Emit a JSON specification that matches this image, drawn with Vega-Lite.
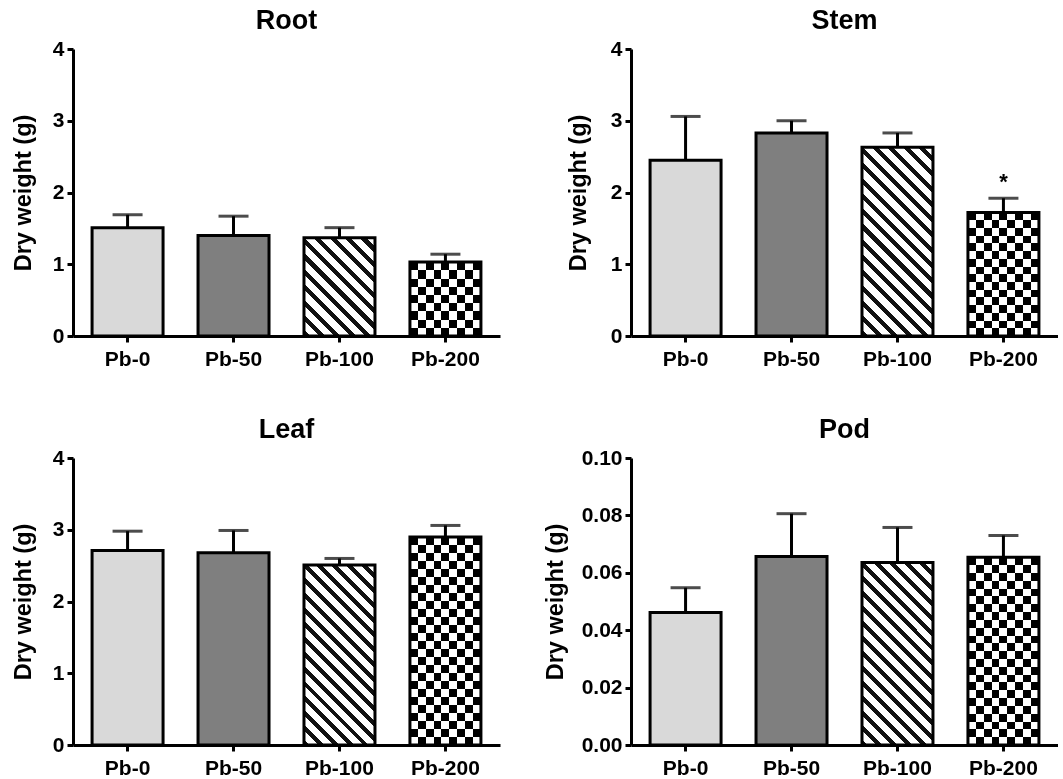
{
"$schema":"https://vega.github.io/schema/vega-lite/v6.json",
"background":"white",
"padding":{"left":11,"top":7,"right":0,"bottom":0},
"columns":2,
"align":"each",
"spacing":{"row":47,"column":43},
"concat":[
{
"title":{"text":"Root"},
"width":427,"height":287,
"data":{"values":[
{"g":"Pb-0","mean":1.51,"upper":1.69},
{"g":"Pb-50","mean":1.40,"upper":1.67},
{"g":"Pb-100","mean":1.37,"upper":1.51},
{"g":"Pb-200","mean":1.03,"upper":1.14}]},
"encoding":{
"x":{"field":"g","type":"nominal","sort":null,"scale":{"paddingInner":0.33,"paddingOuter":0.18},"axis":{"title":null,"labelAngle":0,"labelPadding":6,"labelFontSize":21}},
"y":{"field":"mean","type":"quantitative","title":"Dry weight (g)","scale":{"domain":[0,4],"nice":false},"axis":{"values":[0,1,2,3,4],"titlePadding":17,"labelPadding":3}}},
"layer":[
{"mark":{"type":"bar"},"encoding":{"fill":{"condition":[
{"test":"datum.g === 'Pb-0'","value":"#d9d9d9"},
{"test":"datum.g === 'Pb-50'","value":"#7f7f7f"},
{"test":"datum.g === 'Pb-100'","value":{"gradient":"linear","x1":0,"y1":1,"x2":0.8175,"y2":-0.1318,"stops":[
{"offset":0,"color":"#111"},{"offset":0.0364,"color":"#111"},{"offset":0.0364,"color":"#fff"},{"offset":0.0909,"color":"#fff"},
{"offset":0.0909,"color":"#111"},{"offset":0.1273,"color":"#111"},{"offset":0.1273,"color":"#fff"},{"offset":0.1818,"color":"#fff"},
{"offset":0.1818,"color":"#111"},{"offset":0.2182,"color":"#111"},{"offset":0.2182,"color":"#fff"},{"offset":0.2727,"color":"#fff"},
{"offset":0.2727,"color":"#111"},{"offset":0.3091,"color":"#111"},{"offset":0.3091,"color":"#fff"},{"offset":0.3636,"color":"#fff"},
{"offset":0.3636,"color":"#111"},{"offset":0.4,"color":"#111"},{"offset":0.4,"color":"#fff"},{"offset":0.4545,"color":"#fff"},
{"offset":0.4545,"color":"#111"},{"offset":0.4909,"color":"#111"},{"offset":0.4909,"color":"#fff"},{"offset":0.5455,"color":"#fff"},
{"offset":0.5455,"color":"#111"},{"offset":0.5818,"color":"#111"},{"offset":0.5818,"color":"#fff"},{"offset":0.6364,"color":"#fff"},
{"offset":0.6364,"color":"#111"},{"offset":0.6727,"color":"#111"},{"offset":0.6727,"color":"#fff"},{"offset":0.7273,"color":"#fff"},
{"offset":0.7273,"color":"#111"},{"offset":0.7636,"color":"#111"},{"offset":0.7636,"color":"#fff"},{"offset":0.8182,"color":"#fff"},
{"offset":0.8182,"color":"#111"},{"offset":0.8545,"color":"#111"},{"offset":0.8545,"color":"#fff"},{"offset":0.9091,"color":"#fff"},
{"offset":0.9091,"color":"#111"},{"offset":0.9455,"color":"#111"},{"offset":0.9455,"color":"#fff"},{"offset":1,"color":"#fff"}]}}],
"value":{"gradient":"linear","x1":0,"y1":0,"x2":0,"y2":1,"stops":[
{"offset":0,"color":"#000"},{"offset":0.1111,"color":"#000"},{"offset":0.1111,"color":"#fff"},{"offset":0.2222,"color":"#fff"},
{"offset":0.2222,"color":"#000"},{"offset":0.3333,"color":"#000"},{"offset":0.3333,"color":"#fff"},{"offset":0.4444,"color":"#fff"},
{"offset":0.4444,"color":"#000"},{"offset":0.5556,"color":"#000"},{"offset":0.5556,"color":"#fff"},{"offset":0.6667,"color":"#fff"},
{"offset":0.6667,"color":"#000"},{"offset":0.7778,"color":"#000"},{"offset":0.7778,"color":"#fff"},{"offset":0.8889,"color":"#fff"},
{"offset":0.8889,"color":"#000"},{"offset":1,"color":"#000"}]}}}},
{"transform":[{"filter":"datum.g === 'Pb-200'"}],"mark":{"type":"bar","blend":"difference"},"encoding":{"fill":{"value":{"gradient":"linear","x1":0,"y1":0,"x2":1,"y2":0,"stops":[
{"offset":0,"color":"#000"},{"offset":0.1111,"color":"#000"},{"offset":0.1111,"color":"#fff"},{"offset":0.2222,"color":"#fff"},
{"offset":0.2222,"color":"#000"},{"offset":0.3333,"color":"#000"},{"offset":0.3333,"color":"#fff"},{"offset":0.4444,"color":"#fff"},
{"offset":0.4444,"color":"#000"},{"offset":0.5556,"color":"#000"},{"offset":0.5556,"color":"#fff"},{"offset":0.6667,"color":"#fff"},
{"offset":0.6667,"color":"#000"},{"offset":0.7778,"color":"#000"},{"offset":0.7778,"color":"#fff"},{"offset":0.8889,"color":"#fff"},
{"offset":0.8889,"color":"#000"},{"offset":1,"color":"#000"}]}}}},
{"mark":{"type":"bar","fillOpacity":0,"stroke":"#000","strokeWidth":3}},
{"mark":{"type":"rule","color":"#000","strokeWidth":3},"encoding":{"y2":{"field":"upper"}}},
{"mark":{"type":"tick","color":"#000","size":30,"thickness":3},"encoding":{"y":{"field":"upper","type":"quantitative","title":"Dry weight (g)","scale":{"domain":[0,4],"nice":false},"axis":{"values":[0,1,2,3,4],"titlePadding":17,"labelPadding":3}}}}
]
},
{
"title":{"text":"Stem"},
"width":427,"height":287,
"data":{"values":[
{"g":"Pb-0","mean":2.45,"upper":3.06,"sig":""},
{"g":"Pb-50","mean":2.83,"upper":3.00,"sig":""},
{"g":"Pb-100","mean":2.63,"upper":2.83,"sig":""},
{"g":"Pb-200","mean":1.72,"upper":1.92,"sig":"*"}]},
"encoding":{
"x":{"field":"g","type":"nominal","sort":null,"scale":{"paddingInner":0.33,"paddingOuter":0.18},"axis":{"title":null,"labelAngle":0,"labelPadding":6,"labelFontSize":21}},
"y":{"field":"mean","type":"quantitative","title":"Dry weight (g)","scale":{"domain":[0,4],"nice":false},"axis":{"values":[0,1,2,3,4],"titlePadding":20,"labelPadding":3}}},
"layer":[
{"mark":{"type":"bar"},"encoding":{"fill":{"condition":[
{"test":"datum.g === 'Pb-0'","value":"#d9d9d9"},
{"test":"datum.g === 'Pb-50'","value":"#7f7f7f"},
{"test":"datum.g === 'Pb-100'","value":{"gradient":"linear","x1":0,"y1":1,"x2":0.4536,"y2":-0.2055,"stops":[
{"offset":0,"color":"#111"},{"offset":0.0235,"color":"#111"},{"offset":0.0235,"color":"#fff"},{"offset":0.0588,"color":"#fff"},
{"offset":0.0588,"color":"#111"},{"offset":0.0824,"color":"#111"},{"offset":0.0824,"color":"#fff"},{"offset":0.1176,"color":"#fff"},
{"offset":0.1176,"color":"#111"},{"offset":0.1412,"color":"#111"},{"offset":0.1412,"color":"#fff"},{"offset":0.1765,"color":"#fff"},
{"offset":0.1765,"color":"#111"},{"offset":0.2,"color":"#111"},{"offset":0.2,"color":"#fff"},{"offset":0.2353,"color":"#fff"},
{"offset":0.2353,"color":"#111"},{"offset":0.2588,"color":"#111"},{"offset":0.2588,"color":"#fff"},{"offset":0.2941,"color":"#fff"},
{"offset":0.2941,"color":"#111"},{"offset":0.3176,"color":"#111"},{"offset":0.3176,"color":"#fff"},{"offset":0.3529,"color":"#fff"},
{"offset":0.3529,"color":"#111"},{"offset":0.3765,"color":"#111"},{"offset":0.3765,"color":"#fff"},{"offset":0.4118,"color":"#fff"},
{"offset":0.4118,"color":"#111"},{"offset":0.4353,"color":"#111"},{"offset":0.4353,"color":"#fff"},{"offset":0.4706,"color":"#fff"},
{"offset":0.4706,"color":"#111"},{"offset":0.4941,"color":"#111"},{"offset":0.4941,"color":"#fff"},{"offset":0.5294,"color":"#fff"},
{"offset":0.5294,"color":"#111"},{"offset":0.5529,"color":"#111"},{"offset":0.5529,"color":"#fff"},{"offset":0.5882,"color":"#fff"},
{"offset":0.5882,"color":"#111"},{"offset":0.6118,"color":"#111"},{"offset":0.6118,"color":"#fff"},{"offset":0.6471,"color":"#fff"},
{"offset":0.6471,"color":"#111"},{"offset":0.6706,"color":"#111"},{"offset":0.6706,"color":"#fff"},{"offset":0.7059,"color":"#fff"},
{"offset":0.7059,"color":"#111"},{"offset":0.7294,"color":"#111"},{"offset":0.7294,"color":"#fff"},{"offset":0.7647,"color":"#fff"},
{"offset":0.7647,"color":"#111"},{"offset":0.7882,"color":"#111"},{"offset":0.7882,"color":"#fff"},{"offset":0.8235,"color":"#fff"},
{"offset":0.8235,"color":"#111"},{"offset":0.8471,"color":"#111"},{"offset":0.8471,"color":"#fff"},{"offset":0.8824,"color":"#fff"},
{"offset":0.8824,"color":"#111"},{"offset":0.9059,"color":"#111"},{"offset":0.9059,"color":"#fff"},{"offset":0.9412,"color":"#fff"},
{"offset":0.9412,"color":"#111"},{"offset":0.9647,"color":"#111"},{"offset":0.9647,"color":"#fff"},{"offset":1,"color":"#fff"}]}}],
"value":{"gradient":"linear","x1":0,"y1":0,"x2":0,"y2":1,"stops":[
{"offset":0,"color":"#000"},{"offset":0.0625,"color":"#000"},{"offset":0.0625,"color":"#fff"},{"offset":0.125,"color":"#fff"},
{"offset":0.125,"color":"#000"},{"offset":0.1875,"color":"#000"},{"offset":0.1875,"color":"#fff"},{"offset":0.25,"color":"#fff"},
{"offset":0.25,"color":"#000"},{"offset":0.3125,"color":"#000"},{"offset":0.3125,"color":"#fff"},{"offset":0.375,"color":"#fff"},
{"offset":0.375,"color":"#000"},{"offset":0.4375,"color":"#000"},{"offset":0.4375,"color":"#fff"},{"offset":0.5,"color":"#fff"},
{"offset":0.5,"color":"#000"},{"offset":0.5625,"color":"#000"},{"offset":0.5625,"color":"#fff"},{"offset":0.625,"color":"#fff"},
{"offset":0.625,"color":"#000"},{"offset":0.6875,"color":"#000"},{"offset":0.6875,"color":"#fff"},{"offset":0.75,"color":"#fff"},
{"offset":0.75,"color":"#000"},{"offset":0.8125,"color":"#000"},{"offset":0.8125,"color":"#fff"},{"offset":0.875,"color":"#fff"},
{"offset":0.875,"color":"#000"},{"offset":0.9375,"color":"#000"},{"offset":0.9375,"color":"#fff"},{"offset":1,"color":"#fff"}]}}}},
{"transform":[{"filter":"datum.g === 'Pb-200'"}],"mark":{"type":"bar","blend":"difference"},"encoding":{"fill":{"value":{"gradient":"linear","x1":0,"y1":0,"x2":1,"y2":0,"stops":[
{"offset":0,"color":"#000"},{"offset":0.1111,"color":"#000"},{"offset":0.1111,"color":"#fff"},{"offset":0.2222,"color":"#fff"},
{"offset":0.2222,"color":"#000"},{"offset":0.3333,"color":"#000"},{"offset":0.3333,"color":"#fff"},{"offset":0.4444,"color":"#fff"},
{"offset":0.4444,"color":"#000"},{"offset":0.5556,"color":"#000"},{"offset":0.5556,"color":"#fff"},{"offset":0.6667,"color":"#fff"},
{"offset":0.6667,"color":"#000"},{"offset":0.7778,"color":"#000"},{"offset":0.7778,"color":"#fff"},{"offset":0.8889,"color":"#fff"},
{"offset":0.8889,"color":"#000"},{"offset":1,"color":"#000"}]}}}},
{"mark":{"type":"bar","fillOpacity":0,"stroke":"#000","strokeWidth":3}},
{"mark":{"type":"rule","color":"#000","strokeWidth":3},"encoding":{"y2":{"field":"upper"}}},
{"mark":{"type":"tick","color":"#000","size":30,"thickness":3},"encoding":{"y":{"field":"upper","type":"quantitative","title":"Dry weight (g)","scale":{"domain":[0,4],"nice":false},"axis":{"values":[0,1,2,3,4],"titlePadding":20,"labelPadding":3}}}},
{"transform":[{"filter":"datum.sig === '*'"}],"mark":{"type":"text","color":"#000","fontSize":22,"fontWeight":"bold","baseline":"alphabetic","dy":-9},"encoding":{"y":{"field":"upper","type":"quantitative","title":"Dry weight (g)","scale":{"domain":[0,4],"nice":false},"axis":{"values":[0,1,2,3,4],"titlePadding":20,"labelPadding":3}},"text":{"field":"sig"}}}
]
},
{
"title":{"text":"Leaf"},
"width":427,"height":287,
"data":{"values":[
{"g":"Pb-0","mean":2.71,"upper":2.98},
{"g":"Pb-50","mean":2.68,"upper":2.99},
{"g":"Pb-100","mean":2.51,"upper":2.60},
{"g":"Pb-200","mean":2.90,"upper":3.06}]},
"encoding":{
"x":{"field":"g","type":"nominal","sort":null,"scale":{"paddingInner":0.33,"paddingOuter":0.18},"axis":{"title":null,"labelAngle":0,"labelPadding":6,"labelFontSize":21}},
"y":{"field":"mean","type":"quantitative","title":"Dry weight (g)","scale":{"domain":[0,4],"nice":false},"axis":{"values":[0,1,2,3,4],"titlePadding":17,"labelPadding":3}}},
"layer":[
{"mark":{"type":"bar"},"encoding":{"fill":{"condition":[
{"test":"datum.g === 'Pb-0'","value":"#d9d9d9"},
{"test":"datum.g === 'Pb-50'","value":"#7f7f7f"},
{"test":"datum.g === 'Pb-100'","value":{"gradient":"linear","x1":0,"y1":1,"x2":0.4757,"y2":-0.2067,"stops":[
{"offset":0,"color":"#111"},{"offset":0.0235,"color":"#111"},{"offset":0.0235,"color":"#fff"},{"offset":0.0588,"color":"#fff"},
{"offset":0.0588,"color":"#111"},{"offset":0.0824,"color":"#111"},{"offset":0.0824,"color":"#fff"},{"offset":0.1176,"color":"#fff"},
{"offset":0.1176,"color":"#111"},{"offset":0.1412,"color":"#111"},{"offset":0.1412,"color":"#fff"},{"offset":0.1765,"color":"#fff"},
{"offset":0.1765,"color":"#111"},{"offset":0.2,"color":"#111"},{"offset":0.2,"color":"#fff"},{"offset":0.2353,"color":"#fff"},
{"offset":0.2353,"color":"#111"},{"offset":0.2588,"color":"#111"},{"offset":0.2588,"color":"#fff"},{"offset":0.2941,"color":"#fff"},
{"offset":0.2941,"color":"#111"},{"offset":0.3176,"color":"#111"},{"offset":0.3176,"color":"#fff"},{"offset":0.3529,"color":"#fff"},
{"offset":0.3529,"color":"#111"},{"offset":0.3765,"color":"#111"},{"offset":0.3765,"color":"#fff"},{"offset":0.4118,"color":"#fff"},
{"offset":0.4118,"color":"#111"},{"offset":0.4353,"color":"#111"},{"offset":0.4353,"color":"#fff"},{"offset":0.4706,"color":"#fff"},
{"offset":0.4706,"color":"#111"},{"offset":0.4941,"color":"#111"},{"offset":0.4941,"color":"#fff"},{"offset":0.5294,"color":"#fff"},
{"offset":0.5294,"color":"#111"},{"offset":0.5529,"color":"#111"},{"offset":0.5529,"color":"#fff"},{"offset":0.5882,"color":"#fff"},
{"offset":0.5882,"color":"#111"},{"offset":0.6118,"color":"#111"},{"offset":0.6118,"color":"#fff"},{"offset":0.6471,"color":"#fff"},
{"offset":0.6471,"color":"#111"},{"offset":0.6706,"color":"#111"},{"offset":0.6706,"color":"#fff"},{"offset":0.7059,"color":"#fff"},
{"offset":0.7059,"color":"#111"},{"offset":0.7294,"color":"#111"},{"offset":0.7294,"color":"#fff"},{"offset":0.7647,"color":"#fff"},
{"offset":0.7647,"color":"#111"},{"offset":0.7882,"color":"#111"},{"offset":0.7882,"color":"#fff"},{"offset":0.8235,"color":"#fff"},
{"offset":0.8235,"color":"#111"},{"offset":0.8471,"color":"#111"},{"offset":0.8471,"color":"#fff"},{"offset":0.8824,"color":"#fff"},
{"offset":0.8824,"color":"#111"},{"offset":0.9059,"color":"#111"},{"offset":0.9059,"color":"#fff"},{"offset":0.9412,"color":"#fff"},
{"offset":0.9412,"color":"#111"},{"offset":0.9647,"color":"#111"},{"offset":0.9647,"color":"#fff"},{"offset":1,"color":"#fff"}]}}],
"value":{"gradient":"linear","x1":0,"y1":0,"x2":0,"y2":1,"stops":[
{"offset":0,"color":"#000"},{"offset":0.0385,"color":"#000"},{"offset":0.0385,"color":"#fff"},{"offset":0.0769,"color":"#fff"},
{"offset":0.0769,"color":"#000"},{"offset":0.1154,"color":"#000"},{"offset":0.1154,"color":"#fff"},{"offset":0.1538,"color":"#fff"},
{"offset":0.1538,"color":"#000"},{"offset":0.1923,"color":"#000"},{"offset":0.1923,"color":"#fff"},{"offset":0.2308,"color":"#fff"},
{"offset":0.2308,"color":"#000"},{"offset":0.2692,"color":"#000"},{"offset":0.2692,"color":"#fff"},{"offset":0.3077,"color":"#fff"},
{"offset":0.3077,"color":"#000"},{"offset":0.3462,"color":"#000"},{"offset":0.3462,"color":"#fff"},{"offset":0.3846,"color":"#fff"},
{"offset":0.3846,"color":"#000"},{"offset":0.4231,"color":"#000"},{"offset":0.4231,"color":"#fff"},{"offset":0.4615,"color":"#fff"},
{"offset":0.4615,"color":"#000"},{"offset":0.5,"color":"#000"},{"offset":0.5,"color":"#fff"},{"offset":0.5385,"color":"#fff"},
{"offset":0.5385,"color":"#000"},{"offset":0.5769,"color":"#000"},{"offset":0.5769,"color":"#fff"},{"offset":0.6154,"color":"#fff"},
{"offset":0.6154,"color":"#000"},{"offset":0.6538,"color":"#000"},{"offset":0.6538,"color":"#fff"},{"offset":0.6923,"color":"#fff"},
{"offset":0.6923,"color":"#000"},{"offset":0.7308,"color":"#000"},{"offset":0.7308,"color":"#fff"},{"offset":0.7692,"color":"#fff"},
{"offset":0.7692,"color":"#000"},{"offset":0.8077,"color":"#000"},{"offset":0.8077,"color":"#fff"},{"offset":0.8462,"color":"#fff"},
{"offset":0.8462,"color":"#000"},{"offset":0.8846,"color":"#000"},{"offset":0.8846,"color":"#fff"},{"offset":0.9231,"color":"#fff"},
{"offset":0.9231,"color":"#000"},{"offset":0.9615,"color":"#000"},{"offset":0.9615,"color":"#fff"},{"offset":1,"color":"#fff"}]}}}},
{"transform":[{"filter":"datum.g === 'Pb-200'"}],"mark":{"type":"bar","blend":"difference"},"encoding":{"fill":{"value":{"gradient":"linear","x1":0,"y1":0,"x2":1,"y2":0,"stops":[
{"offset":0,"color":"#000"},{"offset":0.1111,"color":"#000"},{"offset":0.1111,"color":"#fff"},{"offset":0.2222,"color":"#fff"},
{"offset":0.2222,"color":"#000"},{"offset":0.3333,"color":"#000"},{"offset":0.3333,"color":"#fff"},{"offset":0.4444,"color":"#fff"},
{"offset":0.4444,"color":"#000"},{"offset":0.5556,"color":"#000"},{"offset":0.5556,"color":"#fff"},{"offset":0.6667,"color":"#fff"},
{"offset":0.6667,"color":"#000"},{"offset":0.7778,"color":"#000"},{"offset":0.7778,"color":"#fff"},{"offset":0.8889,"color":"#fff"},
{"offset":0.8889,"color":"#000"},{"offset":1,"color":"#000"}]}}}},
{"mark":{"type":"bar","fillOpacity":0,"stroke":"#000","strokeWidth":3}},
{"mark":{"type":"rule","color":"#000","strokeWidth":3},"encoding":{"y2":{"field":"upper"}}},
{"mark":{"type":"tick","color":"#000","size":30,"thickness":3},"encoding":{"y":{"field":"upper","type":"quantitative","title":"Dry weight (g)","scale":{"domain":[0,4],"nice":false},"axis":{"values":[0,1,2,3,4],"titlePadding":17,"labelPadding":3}}}}
]
},
{
"title":{"text":"Pod"},
"width":427,"height":287,
"data":{"values":[
{"g":"Pb-0","mean":0.0462,"upper":0.0548},
{"g":"Pb-50","mean":0.0657,"upper":0.0806},
{"g":"Pb-100","mean":0.0636,"upper":0.0758},
{"g":"Pb-200","mean":0.0654,"upper":0.0730}]},
"encoding":{
"x":{"field":"g","type":"nominal","sort":null,"scale":{"paddingInner":0.33,"paddingOuter":0.18},"axis":{"title":null,"labelAngle":0,"labelPadding":6,"labelFontSize":21}},
"y":{"field":"mean","type":"quantitative","title":"Dry weight (g)","scale":{"domain":[0,0.1],"nice":false},"axis":{"values":[0,0.02,0.04,0.06,0.08,0.1],"format":".2f","titlePadding":14,"labelPadding":3}}},
"layer":[
{"mark":{"type":"bar"},"encoding":{"fill":{"condition":[
{"test":"datum.g === 'Pb-0'","value":"#d9d9d9"},
{"test":"datum.g === 'Pb-50'","value":"#7f7f7f"},
{"test":"datum.g === 'Pb-100'","value":{"gradient":"linear","x1":0,"y1":1,"x2":0.4694,"y2":-0.2065,"stops":[
{"offset":0,"color":"#111"},{"offset":0.0235,"color":"#111"},{"offset":0.0235,"color":"#fff"},{"offset":0.0588,"color":"#fff"},
{"offset":0.0588,"color":"#111"},{"offset":0.0824,"color":"#111"},{"offset":0.0824,"color":"#fff"},{"offset":0.1176,"color":"#fff"},
{"offset":0.1176,"color":"#111"},{"offset":0.1412,"color":"#111"},{"offset":0.1412,"color":"#fff"},{"offset":0.1765,"color":"#fff"},
{"offset":0.1765,"color":"#111"},{"offset":0.2,"color":"#111"},{"offset":0.2,"color":"#fff"},{"offset":0.2353,"color":"#fff"},
{"offset":0.2353,"color":"#111"},{"offset":0.2588,"color":"#111"},{"offset":0.2588,"color":"#fff"},{"offset":0.2941,"color":"#fff"},
{"offset":0.2941,"color":"#111"},{"offset":0.3176,"color":"#111"},{"offset":0.3176,"color":"#fff"},{"offset":0.3529,"color":"#fff"},
{"offset":0.3529,"color":"#111"},{"offset":0.3765,"color":"#111"},{"offset":0.3765,"color":"#fff"},{"offset":0.4118,"color":"#fff"},
{"offset":0.4118,"color":"#111"},{"offset":0.4353,"color":"#111"},{"offset":0.4353,"color":"#fff"},{"offset":0.4706,"color":"#fff"},
{"offset":0.4706,"color":"#111"},{"offset":0.4941,"color":"#111"},{"offset":0.4941,"color":"#fff"},{"offset":0.5294,"color":"#fff"},
{"offset":0.5294,"color":"#111"},{"offset":0.5529,"color":"#111"},{"offset":0.5529,"color":"#fff"},{"offset":0.5882,"color":"#fff"},
{"offset":0.5882,"color":"#111"},{"offset":0.6118,"color":"#111"},{"offset":0.6118,"color":"#fff"},{"offset":0.6471,"color":"#fff"},
{"offset":0.6471,"color":"#111"},{"offset":0.6706,"color":"#111"},{"offset":0.6706,"color":"#fff"},{"offset":0.7059,"color":"#fff"},
{"offset":0.7059,"color":"#111"},{"offset":0.7294,"color":"#111"},{"offset":0.7294,"color":"#fff"},{"offset":0.7647,"color":"#fff"},
{"offset":0.7647,"color":"#111"},{"offset":0.7882,"color":"#111"},{"offset":0.7882,"color":"#fff"},{"offset":0.8235,"color":"#fff"},
{"offset":0.8235,"color":"#111"},{"offset":0.8471,"color":"#111"},{"offset":0.8471,"color":"#fff"},{"offset":0.8824,"color":"#fff"},
{"offset":0.8824,"color":"#111"},{"offset":0.9059,"color":"#111"},{"offset":0.9059,"color":"#fff"},{"offset":0.9412,"color":"#fff"},
{"offset":0.9412,"color":"#111"},{"offset":0.9647,"color":"#111"},{"offset":0.9647,"color":"#fff"},{"offset":1,"color":"#fff"}]}}],
"value":{"gradient":"linear","x1":0,"y1":0,"x2":0,"y2":1,"stops":[
{"offset":0,"color":"#000"},{"offset":0.0417,"color":"#000"},{"offset":0.0417,"color":"#fff"},{"offset":0.0833,"color":"#fff"},
{"offset":0.0833,"color":"#000"},{"offset":0.125,"color":"#000"},{"offset":0.125,"color":"#fff"},{"offset":0.1667,"color":"#fff"},
{"offset":0.1667,"color":"#000"},{"offset":0.2083,"color":"#000"},{"offset":0.2083,"color":"#fff"},{"offset":0.25,"color":"#fff"},
{"offset":0.25,"color":"#000"},{"offset":0.2917,"color":"#000"},{"offset":0.2917,"color":"#fff"},{"offset":0.3333,"color":"#fff"},
{"offset":0.3333,"color":"#000"},{"offset":0.375,"color":"#000"},{"offset":0.375,"color":"#fff"},{"offset":0.4167,"color":"#fff"},
{"offset":0.4167,"color":"#000"},{"offset":0.4583,"color":"#000"},{"offset":0.4583,"color":"#fff"},{"offset":0.5,"color":"#fff"},
{"offset":0.5,"color":"#000"},{"offset":0.5417,"color":"#000"},{"offset":0.5417,"color":"#fff"},{"offset":0.5833,"color":"#fff"},
{"offset":0.5833,"color":"#000"},{"offset":0.625,"color":"#000"},{"offset":0.625,"color":"#fff"},{"offset":0.6667,"color":"#fff"},
{"offset":0.6667,"color":"#000"},{"offset":0.7083,"color":"#000"},{"offset":0.7083,"color":"#fff"},{"offset":0.75,"color":"#fff"},
{"offset":0.75,"color":"#000"},{"offset":0.7917,"color":"#000"},{"offset":0.7917,"color":"#fff"},{"offset":0.8333,"color":"#fff"},
{"offset":0.8333,"color":"#000"},{"offset":0.875,"color":"#000"},{"offset":0.875,"color":"#fff"},{"offset":0.9167,"color":"#fff"},
{"offset":0.9167,"color":"#000"},{"offset":0.9583,"color":"#000"},{"offset":0.9583,"color":"#fff"},{"offset":1,"color":"#fff"}]}}}},
{"transform":[{"filter":"datum.g === 'Pb-200'"}],"mark":{"type":"bar","blend":"difference"},"encoding":{"fill":{"value":{"gradient":"linear","x1":0,"y1":0,"x2":1,"y2":0,"stops":[
{"offset":0,"color":"#000"},{"offset":0.1111,"color":"#000"},{"offset":0.1111,"color":"#fff"},{"offset":0.2222,"color":"#fff"},
{"offset":0.2222,"color":"#000"},{"offset":0.3333,"color":"#000"},{"offset":0.3333,"color":"#fff"},{"offset":0.4444,"color":"#fff"},
{"offset":0.4444,"color":"#000"},{"offset":0.5556,"color":"#000"},{"offset":0.5556,"color":"#fff"},{"offset":0.6667,"color":"#fff"},
{"offset":0.6667,"color":"#000"},{"offset":0.7778,"color":"#000"},{"offset":0.7778,"color":"#fff"},{"offset":0.8889,"color":"#fff"},
{"offset":0.8889,"color":"#000"},{"offset":1,"color":"#000"}]}}}},
{"mark":{"type":"bar","fillOpacity":0,"stroke":"#000","strokeWidth":3}},
{"mark":{"type":"rule","color":"#000","strokeWidth":3},"encoding":{"y2":{"field":"upper"}}},
{"mark":{"type":"tick","color":"#000","size":30,"thickness":3},"encoding":{"y":{"field":"upper","type":"quantitative","title":"Dry weight (g)","scale":{"domain":[0,0.1],"nice":false},"axis":{"values":[0,0.02,0.04,0.06,0.08,0.1],"format":".2f","titlePadding":14,"labelPadding":3}}}}
]
}
],
"config":{
"font":"Liberation Sans",
"view":{"stroke":null},
"axis":{"grid":false,"domainColor":"#000","domainWidth":3,"tickColor":"#000","tickWidth":3,"tickSize":6,"labelFont":"Liberation Sans","labelFontWeight":"bold","labelFontSize":21,"labelColor":"#000","titleFont":"Liberation Sans","titleFontWeight":"bold","titleFontSize":23.5,"titleColor":"#000"},
"title":{"font":"Liberation Sans","fontWeight":"bold","fontSize":27,"color":"#000","offset":3,"frame":"group"}
}
}
